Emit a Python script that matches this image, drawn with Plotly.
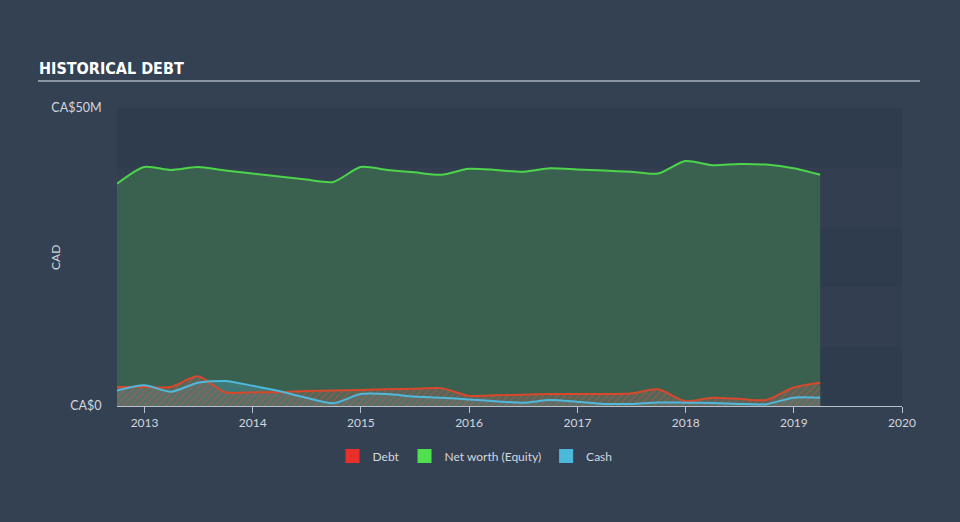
import plotly.graph_objects as go

dates = [
    "2012-09-30", "2012-12-31", "2013-03-31", "2013-06-30", "2013-09-30", "2013-12-31",
    "2014-03-31", "2014-06-30", "2014-09-30", "2014-12-31", "2015-03-31", "2015-06-30",
    "2015-09-30", "2015-12-31", "2016-03-31", "2016-06-30", "2016-09-30", "2016-12-31",
    "2017-03-31", "2017-06-30", "2017-09-30", "2017-12-31", "2018-03-31", "2018-06-30",
    "2018-09-30", "2018-12-31", "2019-03-31",
]
equity_m = [37.3, 40.1, 39.6, 40.1, 39.5, 39.0, 38.5, 38.0, 37.6, 40.1, 39.6, 39.2,
            38.8, 39.8, 39.6, 39.3, 39.9, 39.7, 39.5, 39.3, 39.0, 41.1, 40.4, 40.6,
            40.5, 39.9, 38.8]
debt_m = [3.2, 3.2, 3.2, 5.0, 2.3, 2.3, 2.3, 2.5, 2.6, 2.7, 2.8, 2.9,
          3.0, 1.7, 1.8, 1.9, 2.0, 2.0, 2.0, 2.1, 2.8, 0.8, 1.4, 1.2,
          1.0, 3.1, 3.9]
cash_m = [2.6, 3.5, 2.4, 3.9, 4.2, 3.4, 2.5, 1.4, 0.45, 2.0, 2.0, 1.6,
          1.4, 1.1, 0.8, 0.55, 1.0, 0.7, 0.35, 0.35, 0.6, 0.55, 0.5, 0.35,
          0.3, 1.4, 1.4]
year_ticks = ["2013-01-01", "2014-01-01", "2015-01-01", "2016-01-01", "2017-01-01",
              "2018-01-01", "2019-01-01", "2020-01-01"]
year_labels = ["2013", "2014", "2015", "2016", "2017", "2018", "2019", "2020"]
y_tickvals = [0, 50e6]
y_ticktext = ["CA$0", "CA$50M"]

equity = [v * 1e6 for v in equity_m]
debt = [v * 1e6 for v in debt_m]
cash = [v * 1e6 for v in cash_m]

PAPER = "#344153"
BAND_DARK = "#2f3c4e"
BAND_LIGHT = "#333f51"
TXT = "#d3d7dd"
FONT = "Lato, 'Noto Sans', sans-serif"

fig = go.Figure()

fig.add_trace(go.Scatter(
    x=dates, y=equity, mode="lines", line=dict(color="#4cd44a", width=2, shape="spline", smoothing=0.7),
    fill="tozeroy", fillcolor="#3a6150", showlegend=False, hoverinfo="skip"))
fig.add_trace(go.Scatter(
    x=dates, y=cash, mode="lines", line=dict(color="rgba(0,0,0,0)", width=0, shape="spline", smoothing=0.7),
    fill="tozeroy", fillcolor="rgba(79,184,220,0.28)", showlegend=False, hoverinfo="skip"))
fig.add_trace(go.Scatter(
    x=dates, y=debt, mode="lines", line=dict(color="#d9482b", width=2, shape="spline", smoothing=0.7),
    fill="tozeroy", fillcolor="rgba(110,108,100,0.55)",
    fillpattern=dict(shape="/", fgcolor="rgba(200,88,58,0.85)", bgcolor="rgba(105,105,98,0.55)", size=5, solidity=0.3),
    showlegend=False, hoverinfo="skip"))
fig.add_trace(go.Scatter(
    x=dates, y=cash, mode="lines", line=dict(color="#4fb8dc", width=2, shape="spline", smoothing=0.7),
    showlegend=False, hoverinfo="skip"))

for name, col in [("Debt", "#e8302a"), ("Net worth (Equity)", "#4ee04e"), ("Cash", "#4cb8dc")]:
    fig.add_trace(go.Scatter(x=[None], y=[None], mode="markers", name=name,
                             marker=dict(symbol="square", size=14, color=col)))

shapes = []
for i, (lo, hi) in enumerate([(0, 10e6), (10e6, 20e6), (20e6, 30e6), (30e6, 40e6), (40e6, 50e6)]):
    shapes.append(dict(type="rect", xref="paper", yref="y", x0=0, x1=1, y0=lo, y1=hi,
                       fillcolor=BAND_DARK if i % 2 == 0 else BAND_LIGHT, line=dict(width=0), layer="below"))
# title underline
shapes.append(dict(type="line", xref="paper", yref="paper",
                   x0=(38 - 117) / 785, x1=(920 - 117) / 785, y0=(406 - 81) / 298, y1=(406 - 81) / 298,
                   line=dict(color="#aab2bd", width=1.5)))

fig.update_layout(
    width=960, height=522,
    margin=dict(l=117, r=58, t=108, b=116),
    paper_bgcolor=PAPER, plot_bgcolor=PAPER,
    font=dict(family=FONT, color=TXT, size=12),
    shapes=shapes,
    annotations=[
        dict(text="<b>HISTORICAL DEBT</b>", xref="paper", yref="paper",
             x=(37 - 117) / 785, y=(406 - 68) / 298, xanchor="left", yanchor="middle",
             showarrow=False, font=dict(family="Liberation Sans Narrow, DejaVu Sans Condensed, sans-serif",
                                        size=16, color="#ffffff")),
        dict(text="CAD", xref="paper", yref="paper", x=(55 - 117) / 785, y=(406 - 258) / 298,
             xanchor="center", yanchor="middle", textangle=-90, showarrow=False,
             font=dict(color=TXT, size=12)),
    ],
    xaxis=dict(type="date", range=["2012-09-30", "2020-01-01"], tickvals=year_ticks, ticktext=year_labels,
               showgrid=False, zeroline=False, showline=True, linecolor="#b8c0cb", linewidth=1,
               ticks="outside", ticklen=6, tickcolor="#b8c0cb", tickfont=dict(color=TXT, size=12)),
    yaxis=dict(range=[0, 50e6], tickvals=y_tickvals, ticktext=y_ticktext, showgrid=False, zeroline=False,
               showline=False, ticks="outside", ticklen=12, tickcolor="rgba(0,0,0,0)",
               tickfont=dict(color=TXT, size=12.5)),
    legend=dict(orientation="h", x=(475 - 117) / 785, xanchor="center", y=(406 - 456) / 298, yanchor="middle",
                font=dict(color=TXT, size=12), bgcolor="rgba(0,0,0,0)", itemwidth=30),
)

fig.write_html("out.html")
